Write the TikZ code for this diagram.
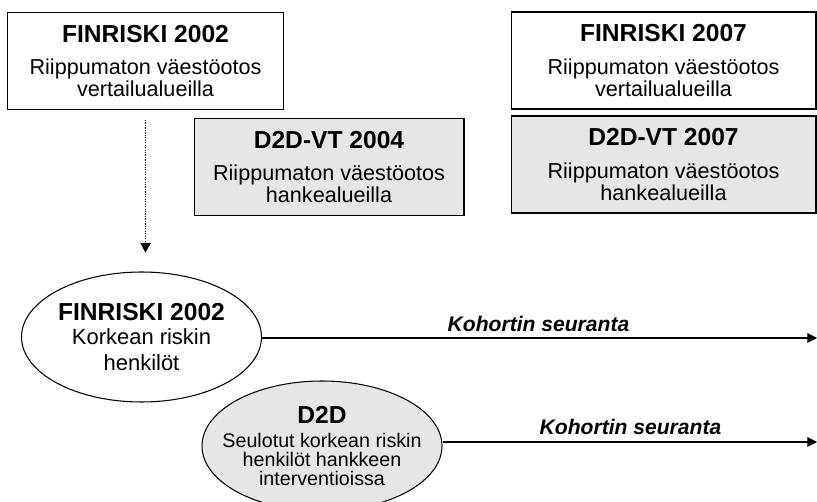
\documentclass[tikz,border=0pt]{standalone}
\usepackage{fontspec}
\setmainfont{Liberation Sans}
\usepackage{tikz}
\usetikzlibrary{shapes.geometric,arrows.meta,positioning,calc}
\definecolor{boxgray}{RGB}{230,230,230}

\begin{document}
\begin{tikzpicture}[
    x=0.02cm, y=-0.02cm,
    studybox/.style={draw=black, line width=0.6pt, align=center, inner sep=0pt,
        minimum height=1.94cm, font=\fontsize{12.3}{12.6}\selectfont},
    cohort/.style={ellipse, draw=black, line width=0.6pt, align=center, inner sep=0pt,
        minimum width=4.8cm, minimum height=2.6cm},
    follow/.style={line width=0.6pt, -{Triangle[length=5.5pt, width=5.5pt]}},
    followlabel/.style={inner sep=0pt, anchor=base, font=\bfseries\itshape\fontsize{12}{12}\selectfont}
]
    \useasboundingbox (0,0) rectangle (817,502);

    % Independent population surveys
    \node[studybox, minimum width=5.52cm] (fr02) at (145.5,61)
        {{\bfseries\fontsize{14}{14}\selectfont FINRISKI 2002}\\[6pt]
         Riippumaton väestöotos\\ vertailualueilla};
    \node[studybox, fill=boxgray, minimum width=5.4cm] (vt04) at (329,167)
        {{\bfseries\fontsize{14}{14}\selectfont D2D-VT 2004}\\[6pt]
         Riippumaton väestöotos\\ hankealueilla};
    \node[studybox, minimum width=6.1cm] (fr07) at (663.5,60.5)
        {{\bfseries\fontsize{14}{14}\selectfont FINRISKI 2007}\\[6pt]
         Riippumaton väestöotos\\ vertailualueilla};
    \node[studybox, fill=boxgray, minimum width=6.1cm] (vt07) at (663.5,164.5)
        {{\bfseries\fontsize{14}{14}\selectfont D2D-VT 2007}\\[6pt]
         Riippumaton väestöotos\\ hankealueilla};

    % High-risk cohorts
    \node[cohort, inner xsep=-0.05cm, font=\fontsize{12.5}{15}\selectfont] (fr02c) at (141.5,337)
        {{\bfseries\fontsize{14}{14}\selectfont FINRISKI 2002}\\[-1pt]
         Korkean riskin\\ henkilöt};
    \node[cohort, inner xsep=-0.32cm, fill=boxgray, font=\fontsize{11.2}{10.6}\selectfont] (d2dc) at (322,446)
        {{\bfseries\fontsize{14}{14}\selectfont D2D}\\[3pt]
         Seulotut korkean riskin\\ henkilöt hankkeen\\ interventioissa};

    % Connectors
    \draw[line width=0.6pt, dash pattern=on 0.7pt off 0.7pt, -{Triangle[length=5.5pt, width=6pt]},
        shorten <=0.2cm, shorten >=0.38cm] (fr02.south) -- (fr02.south |- fr02c.north);

    \coordinate (end1) at (817,338);
    \coordinate (end2) at (817,442);
    \draw[follow] (fr02c.east |- end1) -- (end1);
    \draw[follow] (d2dc.east |- end2) -- (end2);

    % Connector labels
    \node[followlabel] (lab1) at (538.5,332) {Kohortin seuranta};
    \node[followlabel] (lab2) at (630.5,435) {Kohortin seuranta};

\end{tikzpicture}
\end{document}
